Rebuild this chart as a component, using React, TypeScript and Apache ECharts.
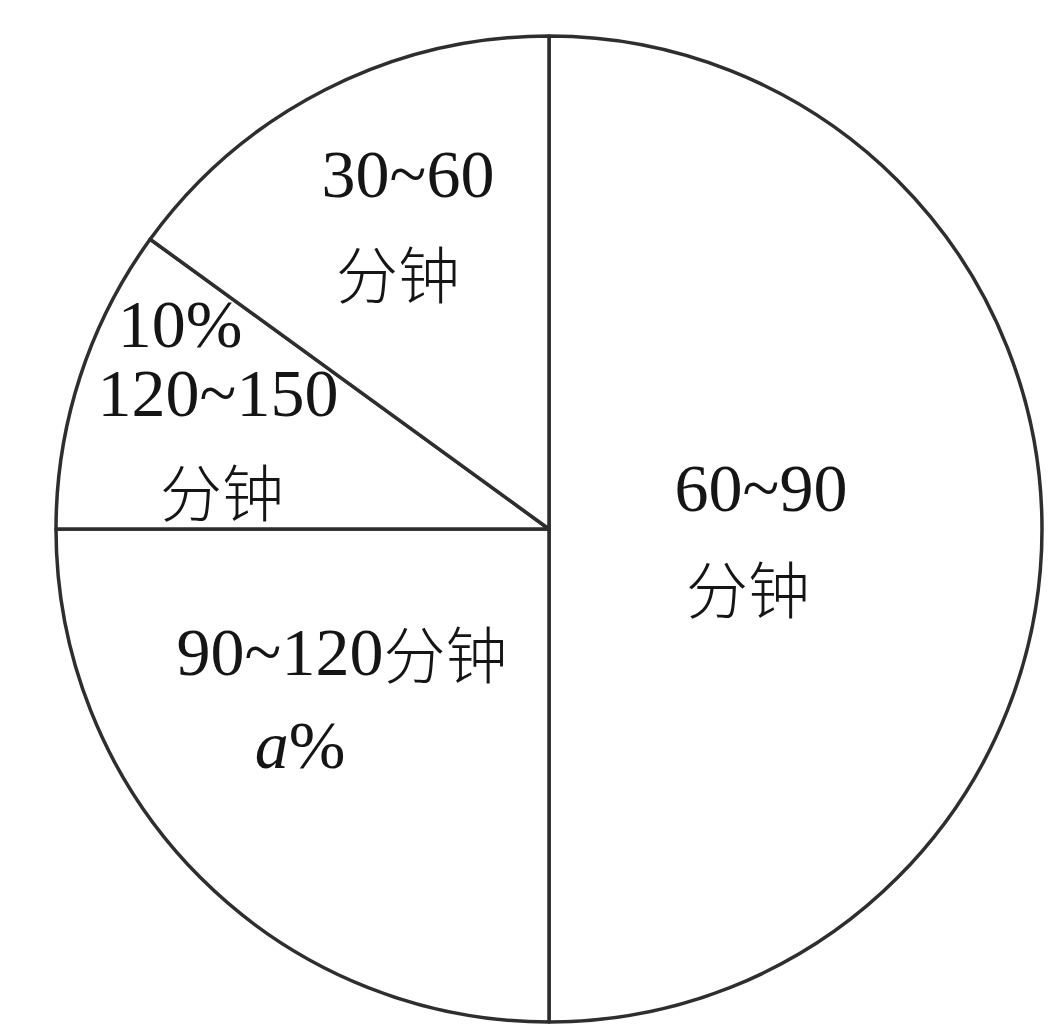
import React, { useEffect, useRef } from "react";
import * as echarts from "echarts";

// Data
const categories = ["60~90分钟", "90~120分钟", "120~150分钟", "30~60分钟"];
const shares = [50, 25, 10, 15];
const labelTexts = [
  ["{n|60~90}", "{c|分钟}"],
  ["{n|90~120}{c|分钟}", "{it|a}{n|%}"],
  ["{n|10%}", "{n|120~150}", "{c|分钟}"],
  ["{n|30~60}", "{c|分钟}"],
];

// Layout for label lines (center positions)
const labelPos: number[][][] = [
  [[761, 488], [748, 587]],
  [[342, 652], [300, 745]],
  [[180, 324], [218, 393], [222, 490]],
  [[408, 174], [398, 272]],
];

const SERIF = '"Liberation Serif", serif';
const CJK = '"Noto Sans CJK SC", sans-serif';
const INK = "#151515";

export default function App() {
  const ref = useRef<HTMLDivElement>(null);
  useEffect(() => {
    const chart = echarts.init(ref.current!, null, { renderer: "svg" });
    const graphics: any[] = [];
    labelTexts.forEach((lines, i) => {
      lines.forEach((t, j) => {
        const [x, y] = labelPos[i][j];
        graphics.push({
          type: "text",
          x,
          y,
          z: 100,
          silent: true,
          style: {
            text: t,
            align: "center",
            verticalAlign: "middle",
            fill: INK,
            fontSize: 68,
            fontFamily: SERIF,
            lineHeight: 62,
            rich: {
              n: { fontSize: 68, fontFamily: SERIF, fill: INK, lineHeight: 62 },
              c: { fontSize: 62, fontFamily: CJK, fill: INK, fontWeight: 300, lineHeight: 62 },
              it: { fontStyle: "italic", fontSize: 68, fontFamily: SERIF, fill: INK, lineHeight: 62 },
            },
          },
        });
      });
    });
    chart.setOption({
      animation: false,
      backgroundColor: "#ffffff",
      series: [
        {
          type: "pie",
          center: [549, 529],
          radius: [0, 493],
          startAngle: 90,
          clockwise: true,
          silent: true,
          z: 1,
          label: { show: false },
          labelLine: { show: false },
          emphasis: { disabled: true },
          itemStyle: { color: "#ffffff", borderColor: "#2e2e2e", borderWidth: 3.5 },
          data: categories.map((name, i) => ({ name, value: shares[i] })),
        },
      ],
      graphic: { elements: graphics },
    });
    return () => chart.dispose();
  }, []);
  return (
    <div
      ref={ref}
      style={{ position: "fixed", left: 0, top: 0, width: 1053, height: 1028, background: "#fff" }}
    />
  );
}
